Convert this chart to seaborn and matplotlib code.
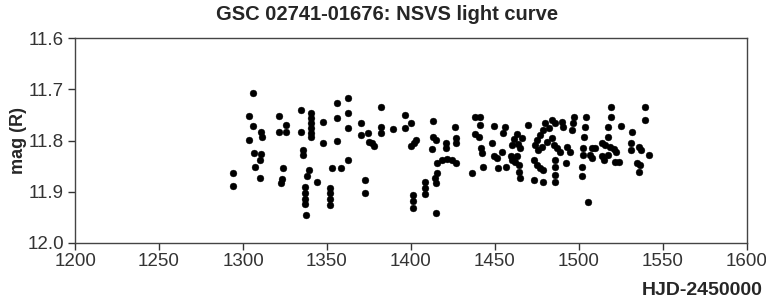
import pandas as pd
import seaborn as sns
import numpy as np
import matplotlib.pyplot as plt

# NSVS light curve points (HJD-2450000, R mag)
hjd = [1305.8, 1303.8, 1305.8, 1303.8, 1310.6, 1311.2, 1306.8, 1310.6, 1310.2, 1307.2,
       1310.2, 1294.3, 1294.3, 1321.3, 1321.3, 1325.3, 1325.3, 1324.1, 1323.3, 1322.5,
       1334.6, 1340.4, 1340.4, 1340.4, 1340.4, 1340.4, 1340.4, 1334.6, 1335.6, 1335.6,
       1339.0, 1338.0, 1337.0, 1337.0, 1337.0, 1337.0, 1337.6, 1347.9, 1347.9, 1344.3,
       1355.9, 1355.9, 1355.9, 1362.8, 1362.8, 1362.8, 1362.6, 1352.9, 1358.3, 1351.9,
       1351.9, 1351.9, 1351.9,
       1382.1, 1370.2, 1370.2, 1374.7, 1375.3, 1376.7, 1377.7, 1382.1, 1382.1, 1389.6,
       1396.5, 1396.5, 1399.9, 1403.1, 1401.9, 1399.9, 1372.7, 1372.7, 1413.0, 1413.0,
       1415.0, 1412.5, 1421.0, 1421.0, 1426.3, 1426.9, 1426.9, 1415.4, 1418.4, 1421.4,
       1424.4, 1426.9, 1415.4, 1414.4, 1415.0, 1408.5, 1408.5, 1408.5, 1401.5, 1401.5,
       1401.5, 1415.0,
       1438.2, 1441.2, 1441.2, 1438.2, 1440.6, 1441.8, 1442.2, 1436.6, 1442.6, 1449.7,
       1455.7, 1455.1, 1448.5, 1449.7, 1451.2, 1452.1, 1456.5, 1454.1, 1463.1, 1461.6,
       1460.1, 1464.0, 1465.0, 1459.7, 1460.4, 1464.4, 1464.4, 1465.0, 1463.1, 1462.1,
       1469.4, 1466.0, 1479.9, 1478.9, 1481.9, 1483.9, 1485.9, 1489.9, 1490.8, 1477.0,
       1475.0, 1474.0, 1475.9, 1478.0, 1480.9, 1483.9, 1484.9, 1486.9, 1488.9, 1492.9,
       1494.8, 1473.0, 1475.0, 1477.0, 1478.9, 1473.0, 1478.9, 1485.9, 1485.9, 1485.9,
       1485.9, 1492.4, 1496.8, 1496.4, 1495.8, 1504.3, 1503.7, 1503.2, 1502.7, 1502.7,
       1501.8, 1501.8, 1505.7,
       1507.7, 1506.7, 1519.2, 1519.2, 1517.6, 1525.2, 1517.6, 1513.7, 1515.7, 1518.6,
       1520.6, 1522.0, 1513.7, 1514.7, 1517.6, 1521.6, 1523.6, 1531.9, 1531.2, 1531.2,
       1535.5, 1537.1, 1541.9, 1534.5, 1536.5, 1535.5, 1539.5, 1539.5, 1509.7, 1507.9]

mag = [11.706, 11.752, 11.771, 11.799, 11.783, 11.792, 11.824, 11.826, 11.838, 11.852,
       11.874, 11.864, 11.889, 11.752, 11.783, 11.769, 11.784, 11.854, 11.876, 11.883,
       11.740, 11.746, 11.756, 11.766, 11.775, 11.785, 11.793, 11.784, 11.818, 11.828,
       11.857, 11.870, 11.890, 11.902, 11.914, 11.924, 11.945, 11.763, 11.805, 11.881,
       11.727, 11.756, 11.801, 11.717, 11.747, 11.776, 11.838, 11.854, 11.854, 11.893,
       11.902, 11.914, 11.926,
       11.734, 11.766, 11.789, 11.786, 11.802, 11.805, 11.810, 11.773, 11.786, 11.778,
       11.749, 11.776, 11.766, 11.799, 11.805, 11.810, 11.877, 11.903, 11.761, 11.792,
       11.799, 11.816, 11.804, 11.815, 11.773, 11.795, 11.804, 11.843, 11.838, 11.836,
       11.838, 11.843, 11.864, 11.874, 11.882, 11.880, 11.893, 11.904, 11.906, 11.919,
       11.932, 11.942,
       11.753, 11.754, 11.769, 11.787, 11.793, 11.815, 11.825, 11.864, 11.852, 11.771,
       11.774, 11.786, 11.804, 11.830, 11.834, 11.854, 11.851, 11.822, 11.787, 11.797,
       11.808, 11.807, 11.815, 11.830, 11.838, 11.848, 11.861, 11.874, 11.831, 11.841,
       11.769, 11.795, 11.766, 11.779, 11.776, 11.760, 11.765, 11.763, 11.773, 11.789,
       11.799, 11.808, 11.818, 11.812, 11.802, 11.795, 11.808, 11.815, 11.822, 11.812,
       11.822, 11.838, 11.848, 11.854, 11.857, 11.877, 11.880, 11.838, 11.851, 11.867,
       11.880, 11.843, 11.753, 11.766, 11.779, 11.753, 11.773, 11.792, 11.815, 11.828,
       11.851, 11.870, 11.921,
       11.815, 11.828, 11.735, 11.753, 11.773, 11.771, 11.792, 11.804, 11.808, 11.812,
       11.817, 11.822, 11.831, 11.838, 11.828, 11.841, 11.841, 11.784, 11.805, 11.818,
       11.812, 11.818, 11.828, 11.844, 11.848, 11.861, 11.735, 11.760, 11.814, 11.834]

x_ticks = [1200, 1250, 1300, 1350, 1400, 1450, 1500, 1550, 1600]
y_ticks = [11.6, 11.7, 11.8, 11.9, 12.0]

df = pd.DataFrame({"hjd": hjd, "mag": mag})

sns.set_style("white")
plt.rcParams['font.family'] = ['Liberation Sans', 'DejaVu Sans']

fig = plt.figure(figsize=(7.66, 3.04), dpi=100)
ax = fig.add_axes([0.098, 0.201, 0.877, 0.673])

sns.scatterplot(data=df, x="hjd", y="mag", ax=ax, color="black", s=24,
                edgecolor="black", linewidth=0.3, legend=False)

ax.set_xlim(1200, 1600)
ax.set_ylim(12.0, 11.6)
ax.set_xticks(x_ticks)
ax.set_xticklabels([str(t) for t in x_ticks])
ax.set_yticks(y_ticks)
ax.set_yticklabels([f"{t:.1f}" for t in y_ticks])
ax.tick_params(direction="out", length=5, width=1, colors="#333333",
               labelsize=13.5, labelcolor="#333333")
ax.tick_params(axis="x", pad=2)
ax.tick_params(axis="y", pad=3)
ax.tick_params(bottom=True, left=True)
for sp in ax.spines.values():
    sp.set_color("#444444")
    sp.set_linewidth(1)

ax.set_xlabel("")
ax.set_ylabel("mag (R)", fontsize=13, fontweight="bold", labelpad=0)
fig.text(0.505, 0.952, "GSC 02741-01676: NSVS light curve", ha="center", va="center",
         fontsize=14.5, fontweight="bold")
fig.text(0.995, 0.045, "HJD-2450000", ha="right", va="center",
         fontsize=14, fontweight="bold")

fig.savefig("out.png", dpi=100)
